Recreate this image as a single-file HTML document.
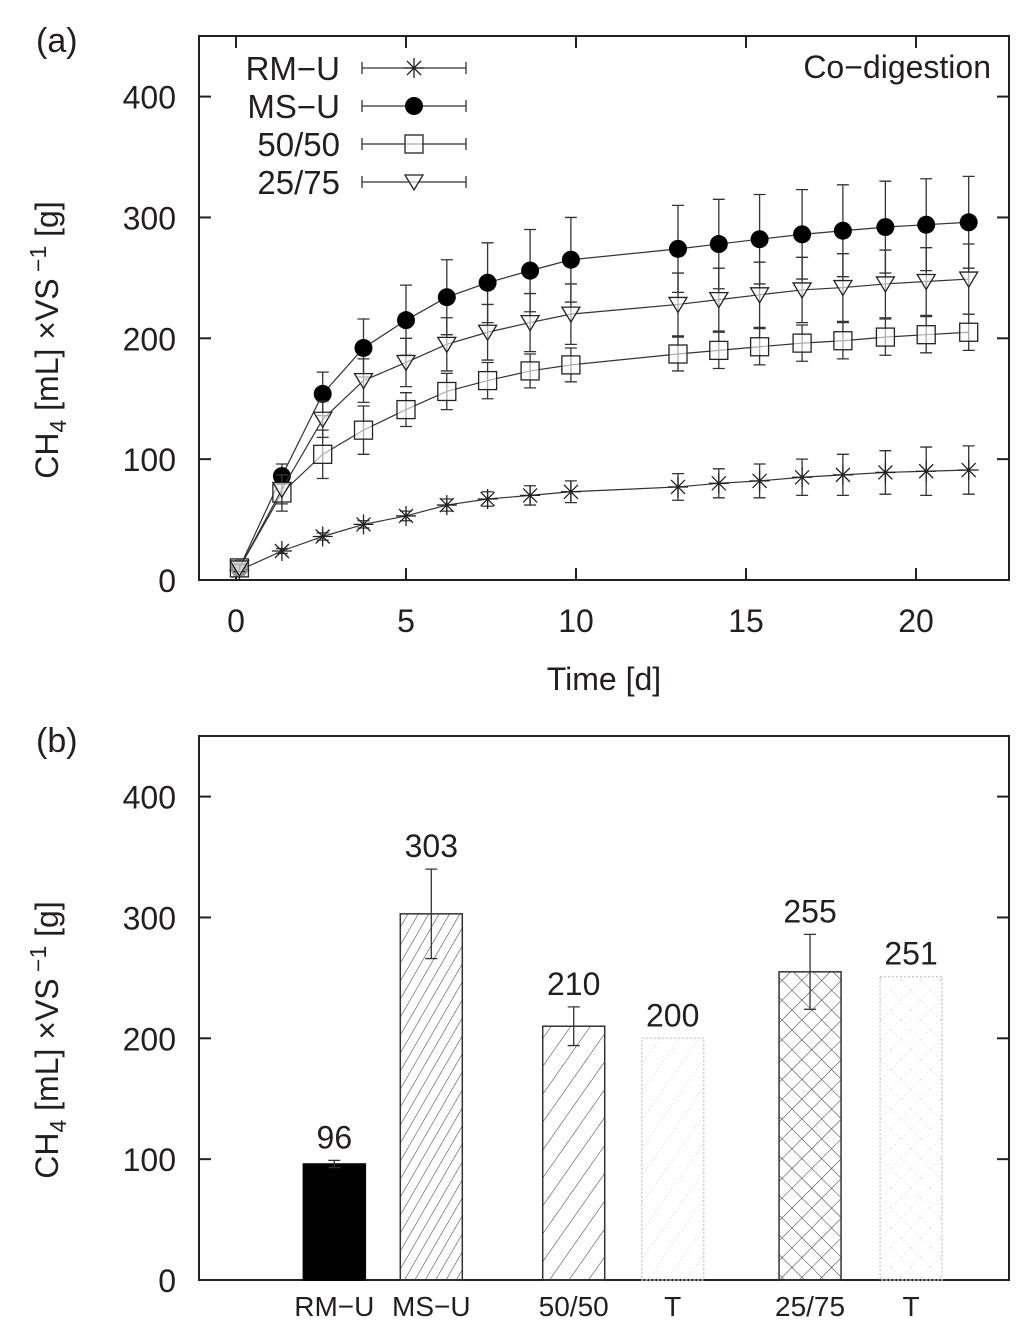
<!DOCTYPE html>
<html><head><meta charset="utf-8"><style>
html,body{margin:0;padding:0;background:#fff;}
svg{display:block;font-family:"Liberation Sans",sans-serif;}
</style></head><body>
<svg id="chart" width="1024" height="1327" viewBox="0 0 1024 1327">
<defs>
<pattern id="hatchA" width="9" height="9" patternUnits="userSpaceOnUse" patternTransform="rotate(30)"><line x1="0" y1="0" x2="0" y2="9" stroke="#333" stroke-width="1"/></pattern>
<pattern id="hatchB" width="16" height="16" patternUnits="userSpaceOnUse" patternTransform="rotate(35)"><line x1="0" y1="0" x2="0" y2="16" stroke="#333" stroke-width="1"/></pattern>
<pattern id="hatchC" width="16" height="16" patternUnits="userSpaceOnUse" patternTransform="rotate(35)"><line x1="0" y1="0" x2="0" y2="16" stroke="#ccc" stroke-width="1" stroke-dasharray="2,2"/></pattern>
<pattern id="crossA" width="14" height="14" patternUnits="userSpaceOnUse" patternTransform="rotate(45)"><line x1="0" y1="0" x2="0" y2="14" stroke="#333" stroke-width="1"/><line x1="0" y1="0" x2="14" y2="0" stroke="#333" stroke-width="1"/></pattern>
<pattern id="crossB" width="14" height="14" patternUnits="userSpaceOnUse" patternTransform="rotate(45)"><line x1="0" y1="0" x2="0" y2="14" stroke="#ddd" stroke-width="1" stroke-dasharray="2,2"/><line x1="0" y1="0" x2="14" y2="0" stroke="#ddd" stroke-width="1" stroke-dasharray="2,2"/></pattern>
</defs>
</svg>
<script>
// ---- Panel (a) data ----
const days = [0.1,1.35,2.55,3.75,5,6.2,7.4,8.65,9.85,13,14.2,15.4,16.65,17.85,19.1,20.3,21.55];
const rmU = [8,24,36,46,53,62,67,70,73,77,80,82,85,87,89,90,91];
const rmUErr = [2,2,3,3,4,5,6,8,9,11,12,14,15,17,18,20,20];
const msU = [10,86,154,192,215,234,246,256,265,274,278,282,286,289,292,294,296];
const msUErr = [2,10,18,24,29,31,33,34,35,36,37,37,37,38,38,38,38];
const mix5050 = [10,72,104,124,141,156,165,173,178,187,190,193,196,198,201,203,205];
const mix5050Err = [3,15,20,20,14,15,15,14,14,14,15,15,15,15,15,15,15];
const mix2575 = [10,75,133,165,180,195,205,213,220,228,232,236,240,242,245,247,249];
const mix2575Err = [3,12,15,18,20,22,23,24,25,26,26,27,27,28,28,28,29];
const xTicksA = [0,5,10,15,20];
const yTicks = [0,100,200,300,400];
// ---- Panel (b) data ----
const barLabels = ["RM\u2212U","MS\u2212U","50/50","T","25/75","T"];
const barValues = [96,303,210,200,255,251];
const barErrors = [3,37,16,0,31,0];
const barSlots = [1.34,2.3,3.71,4.69,6.05,7.05];

const svg = document.getElementById('chart');
const NS = 'http://www.w3.org/2000/svg';
function mk(tag, attrs, parent){const e=document.createElementNS(NS,tag);for(const k in attrs)e.setAttribute(k,attrs[k]);(parent||svg).appendChild(e);return e;}
function txt(s, attrs, parent){const e=mk('text',attrs,parent);e.textContent=s;return e;}

const L=199,R=1009;
const xA = d => 236 + d*34;
const yA = v => 580 - v*1.2085;
const yB = v => 1280 - v*1.2085;
const xB = s => 199 + (s)*101;

// ---------- Panel A ----------
const gA = mk('g',{});


const frA = mk('rect',{x:L,y:36,width:R-L,height:544,fill:'none',stroke:'#222','stroke-width':2},gA);


xTicksA.forEach(t=>{
  const x=xA(t);
  mk('line',{x1:x,y1:580,x2:x,y2:568,stroke:'#222','stroke-width':2},gA);
  mk('line',{x1:x,y1:36,x2:x,y2:48,stroke:'#222','stroke-width':2},gA);
  const l=txt(String(t),{x:x,y:632,'font-size':32,'text-anchor':'middle',fill:'#231f20'},gA);
  
  
});
yTicks.forEach(t=>{
  const y=yA(t);
  mk('line',{x1:L,y1:y,x2:L+12,y2:y,stroke:'#222','stroke-width':2},gA);
  mk('line',{x1:R,y1:y,x2:R-12,y2:y,stroke:'#222','stroke-width':2},gA);
  const l=txt(String(t),{x:176,y:y+12,'font-size':32,'text-anchor':'end',fill:'#231f20'},gA);
  
  
});
const xt=txt('Time [d]',{x:604,y:690,'font-size':32,'text-anchor':'middle',fill:'#231f20'},gA);


function yTitle(cy,parent){
  const t=mk('text',{transform:`translate(58,${cy}) rotate(-90)`,'font-size':32,'text-anchor':'middle',fill:'#231f20'},parent);
  t.innerHTML='CH<tspan font-size="23" dy="8">4</tspan><tspan dy="-8"> [mL] \u00d7VS</tspan><tspan font-size="23" dy="-12"> \u22121</tspan><tspan dy="12"> [g]</tspan>';
  
  
}
yTitle(340,gA);
const pa=txt('(a)',{x:36,y:52,'font-size':34,fill:'#231f20'},gA);


const cd=txt('Co\u2212digestion',{x:991,y:78,'font-size':32,'text-anchor':'end',fill:'#231f20'},gA);



function marker(kind,x,y,parent){
  if(kind==='star'){
    const s=10;
    mk('path',{d:`M${x-s} ${y}H${x+s}M${x-s*0.7} ${y-s*0.7}L${x+s*0.7} ${y+s*0.7}M${x-s*0.7} ${y+s*0.7}L${x+s*0.7} ${y-s*0.7}M${x} ${y-s}V${y+s}`,stroke:'#222','stroke-width':1.3,fill:'none'},parent);
  } else if(kind==='dot'){
    mk('circle',{cx:x,cy:y,r:9,fill:'#000'},parent);
  } else if(kind==='square'){
    mk('rect',{x:x-9,y:y-9,width:18,height:18,fill:'#fff','fill-opacity':0.6,stroke:'#222','stroke-width':1.3},parent);
  } else {
    mk('path',{d:`M${x-9} ${y-7}H${x+9}L${x} ${y+8}Z`,fill:'#fff','fill-opacity':0.6,stroke:'#222','stroke-width':1.3},parent);
  }
}
const series=[
  {name:'RM\u2212U',vals:rmU,err:rmUErr,m:'star',key:'rm-u'},
  {name:'MS\u2212U',vals:msU,err:msUErr,m:'dot',key:'ms-u'},
  {name:'50/50',vals:mix5050,err:mix5050Err,m:'square',key:'mix-50-50'},
  {name:'25/75',vals:mix2575,err:mix2575Err,m:'tri',key:'mix-25-75'}
];
series.forEach((s,si)=>{
  const g=mk('g',{},gA);
  
  
  s.vals.forEach((v,i)=>{
    const x=xA(days[i]),y1=yA(v+s.err[i]),y2=yA(v-s.err[i]);
    const eb=mk('path',{d:`M${x} ${y1}V${y2}M${x-6} ${y1}H${x+6}M${x-6} ${y2}H${x+6}`,stroke:'#333','stroke-width':1.3,fill:'none'},g);
    
    
  });
  const d=s.vals.map((v,i)=>(i?'L':'M')+xA(days[i])+' '+yA(v)).join('');
  const ln=mk('path',{d:d,fill:'none',stroke:'#333','stroke-width':1.2},g);
  
  
  s.vals.forEach((v,i)=>marker(s.m,xA(days[i]),yA(v),g));
  const ly=68+si*38;
  const lg=mk('g',{},gA);
  
  
  txt(s.name,{x:340,y:ly+12,'font-size':33,'text-anchor':'end',fill:'#231f20'},lg);
  mk('path',{d:`M362 ${ly}H466M362 ${ly-6}V${ly+6}M466 ${ly-6}V${ly+6}`,stroke:'#333','stroke-width':1.3,fill:'none'},lg);
  marker(s.m,414,ly,lg);
});

// ---------- Panel B ----------
const gB=mk('g',{});


const frB=mk('rect',{x:L,y:736,width:R-L,height:544,fill:'none',stroke:'#222','stroke-width':2},gB);


yTicks.forEach(t=>{
  const y=yB(t);
  mk('line',{x1:L,y1:y,x2:L+12,y2:y,stroke:'#222','stroke-width':2},gB);
  mk('line',{x1:R,y1:y,x2:R-12,y2:y,stroke:'#222','stroke-width':2},gB);
  const l=txt(String(t),{x:176,y:y+12,'font-size':32,'text-anchor':'end',fill:'#231f20'},gB);
  
  
});
yTitle(1040,gB);
const pb=txt('(b)',{x:36,y:752,'font-size':34,fill:'#231f20'},gB);


const fills=['#000','url(#hatchA)','url(#hatchB)','url(#hatchC)','url(#crossA)','url(#crossB)'];
const strokes=['#000','#333','#333','#ccc','#333','#ccc'];
const dashes=['none','none','none','2,2','none','2,2'];
barValues.forEach((v,i)=>{
  const cx=xB(barSlots[i]),w=62,y=yB(v);
  const g=mk('g',{},gB);
  
  
  mk('rect',{x:cx-w/2,y:y,width:w,height:1280-y,fill:fills[i],stroke:strokes[i],'stroke-width':1.5,'stroke-dasharray':dashes[i]},g);
  if(barErrors[i]>0){
    const y1=yB(v+barErrors[i]),y2=yB(v-barErrors[i]);
    mk('path',{d:`M${cx} ${y1}V${y2}M${cx-6} ${y1}H${cx+6}M${cx-6} ${y2}H${cx+6}`,stroke:'#333','stroke-width':1.3,fill:'none'},g);
  }
  const top=barErrors[i]>0?yB(v+barErrors[i]):y;
  txt(String(v),{x:cx,y:top-12,'font-size':32,'text-anchor':'middle',fill:'#231f20'},g);
  const cl=txt(barLabels[i],{x:cx,y:1316,'font-size':28,'text-anchor':'middle',fill:'#231f20'},gB);
  
  
});
</script>
</body></html>
